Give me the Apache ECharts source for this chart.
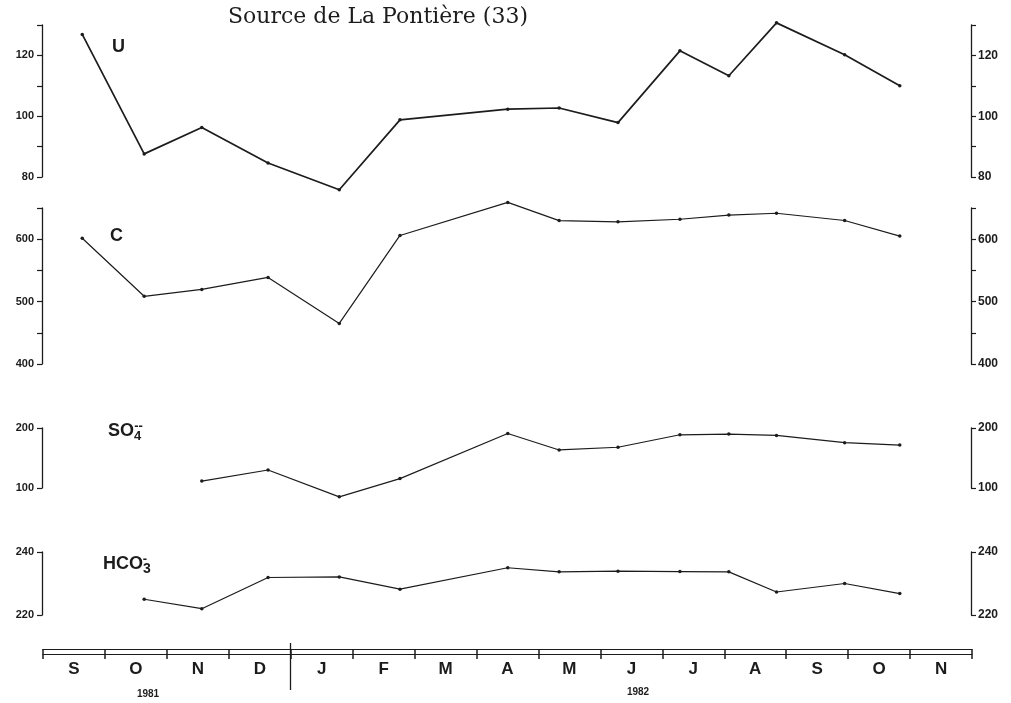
<!DOCTYPE html>
<html>
<head>
<meta charset="utf-8">
<script src="https://cdn.jsdelivr.net/npm/echarts@6/dist/echarts.min.js"></script>
<style>
  html, body { margin: 0; padding: 0; background: #ffffff; }
  #chart { width: 1011px; height: 703px; }
</style>
</head>
<body>
<div id="chart"></div>
<script>
// Sampling dates, in months counted from 1 September 1981
const sampleMonths = [0.65, 1.65, 2.58, 3.65, 4.80, 5.78, 7.52, 8.35, 9.30, 10.30, 11.09, 11.86, 12.96, 13.85];
// Month bands of the time bar (Sept 1981 - Nov 1982)
const monthLabels = ['S', 'O', 'N', 'D', 'J', 'F', 'M', 'A', 'M', 'J', 'J', 'A', 'S', 'O', 'N'];
const yearLabels = ['1981', '1982'];

// Measured series
const uranium = [126.9, 87.6, 96.3, 84.6, 75.8, 98.8, 102.3, 102.7, 97.9, 121.5, 113.3, 130.7, 120.2, 110.0];
const conductivity = [601.6, 508.5, 519.5, 538.7, 465, 606, 659, 629.8, 627.8, 632, 638.7, 641.6, 630, 605];
const sulfate = [null, null, 111.6, 130, 85.3, 115.7, 190.8, 163.4, 167.9, 188.7, 189.8, 187.7, 175.5, 171.6];
const bicarbonate = [null, 225, 222, 231.9, 232.1, 228.2, 235, 233.7, 233.9, 233.8, 233.7, 227.3, 230, 226.8];

// Axis ranges and labelled ticks for each panel
const uAxis = { min: 80, max: 130, interval: 10, labels: [80, 100, 120] };
const cAxis = { min: 400, max: 650, interval: 50, labels: [400, 500, 600] };
const so4Axis = { min: 100, max: 200, interval: 100, labels: [100, 200] };
const hco3Axis = { min: 220, max: 240, interval: 20, labels: [220, 240] };

const INK = '#1c1c1c';
const SANS = '"Liberation Sans", Arial, sans-serif';

const pairs = vals => sampleMonths.map((m, i) => [m, vals[i]]).filter(p => p[1] != null);

const panels = [
  { axis: uAxis, top: 25, height: 152, data: uranium, width: 1.7 },
  { axis: cAxis, top: 208, height: 156, data: conductivity, width: 1.2 },
  { axis: so4Axis, top: 428, height: 60, data: sulfate, width: 1.2 },
  { axis: hco3Axis, top: 552, height: 63, data: bicarbonate, width: 1.2 }
];

const GRID_LEFT = 42, GRID_RIGHT = 40;
const grid = [], xAxis = [], yAxis = [], series = [];

panels.forEach((p, i) => {
  grid.push({ left: GRID_LEFT, right: GRID_RIGHT, top: p.top, height: p.height });
  xAxis.push({ type: 'value', gridIndex: i, min: 0, max: 15, show: false });
  const mk = (position, fontSize, margin) => ({
    type: 'value', gridIndex: i, position,
    min: p.axis.min, max: p.axis.max, interval: p.axis.interval,
    splitLine: { show: false },
    axisLine: { show: true, onZero: false, lineStyle: { color: INK, width: 1.3 } },
    axisTick: { show: true, length: 5, lineStyle: { color: INK, width: 1.2 } },
    axisLabel: {
      show: true, margin, color: INK, fontFamily: SANS, fontWeight: 'bold', fontSize,
      formatter: v => (p.axis.labels.indexOf(v) >= 0 ? String(v) : '')
    }
  });
  yAxis.push(mk('left', 11, 8));
  yAxis.push(mk('right', 12, 7));
  series.push({
    type: 'line', xAxisIndex: i, yAxisIndex: i * 2, clip: false,
    data: pairs(p.data),
    symbol: 'circle', symbolSize: 3.5,
    itemStyle: { color: INK },
    lineStyle: { color: INK, width: p.width },
    silent: true, animation: false
  });
});

// Helper: an empty series so a grid's axes get drawn
const emptyOn = (xi, yi, extra) => Object.assign({
  type: 'line', xAxisIndex: xi, yAxisIndex: yi, data: [], silent: true
}, extra || {});

// Time bar: double rule crossed by month boundary ticks
const barGrid = grid.length;
grid.push({ left: 43, right: 39, top: 649, height: 5 });
const barAxis = (position, tick) => ({
  type: 'value', gridIndex: barGrid, position, min: 0, max: 15, interval: 1,
  splitLine: { show: false },
  axisLine: { show: true, onZero: false, lineStyle: { color: INK, width: 1.2 } },
  axisTick: Object.assign({ lineStyle: { color: INK, width: 1.5 } }, tick),
  axisLabel: { show: false }
});
xAxis.push(barAxis('top', { show: true, inside: true, length: 10 }));
const barTopX = xAxis.length - 1;
xAxis.push(barAxis('bottom', { show: true, length: 1 }));
yAxis.push({ type: 'value', gridIndex: barGrid, min: 0, max: 1, show: false });
const barY = yAxis.length - 1;
series.push(emptyOn(barTopX, barY));
series.push(emptyOn(barTopX + 1, barY));

// Month names centred in their bands
const monthGrid = grid.length;
grid.push({ left: 43, right: 39, top: 649, height: 5 });
xAxis.push({
  type: 'category', gridIndex: monthGrid, position: 'bottom', data: monthLabels, boundaryGap: true,
  axisLine: { show: false, onZero: false }, axisTick: { show: false },
  axisLabel: { show: true, margin: 7, color: INK, fontFamily: SANS, fontWeight: 'bold', fontSize: 17, interval: 0 }
});
yAxis.push({ type: 'value', gridIndex: monthGrid, min: 0, max: 1, show: false });
series.push(emptyOn(xAxis.length - 1, yAxis.length - 1));

// Year divider between December and January
const divGrid = grid.length;
grid.push({ left: 43, right: 39, top: 643, height: 47 });
xAxis.push({ type: 'value', gridIndex: divGrid, min: 0, max: 15, show: false });
yAxis.push({ type: 'value', gridIndex: divGrid, min: 0, max: 1, show: false });
series.push(emptyOn(xAxis.length - 1, yAxis.length - 1, {
  markLine: {
    silent: true, symbol: 'none', label: { show: false }, animation: false,
    lineStyle: { color: INK, type: 'solid', width: 1.3 },
    data: [{ xAxis: 4 }]
  }
}));

const nameStyle = { fill: INK, font: 'bold 18px ' + SANS };

const option = {
  backgroundColor: '#ffffff',
  animation: false,
  grid, xAxis, yAxis, series,
  graphic: [
    { type: 'text', x: 378, y: 6, z: 10, style: { text: 'Source de La Pontière (33)', fill: INK, font: '22px "DejaVu Serif", "Liberation Serif", serif', textAlign: 'center' } },
    { type: 'text', x: 112, y: 38, style: Object.assign({ text: 'U' }, nameStyle) },
    { type: 'text', x: 110, y: 227, style: Object.assign({ text: 'C' }, nameStyle) },
    { type: 'text', x: 108, y: 420, style: {
        text: '{b|SO}{s|4}{p|--}', fill: INK,
        rich: {
          b: { font: 'bold 18px ' + SANS, fill: INK },
          s: { font: 'bold 13px ' + SANS, fill: INK, padding: [9, 0, 0, 0] },
          p: { font: 'bold 13px ' + SANS, fill: INK, padding: [0, 0, 10, -7] }
        } } },
    { type: 'text', x: 103, y: 553, style: {
        text: '{b|HCO}{s|3}{p|-}', fill: INK,
        rich: {
          b: { font: 'bold 18px ' + SANS, fill: INK },
          s: { font: 'bold 14px ' + SANS, fill: INK, padding: [9, 0, 0, 0] },
          p: { font: 'bold 13px ' + SANS, fill: INK, padding: [0, 0, 10, -8] }
        } } },
    { type: 'text', x: 148, y: 689, style: { text: yearLabels[0], fill: INK, font: 'bold 10px ' + SANS, textAlign: 'center' } },
    { type: 'text', x: 638, y: 687, style: { text: yearLabels[1], fill: INK, font: 'bold 10px ' + SANS, textAlign: 'center' } }
  ]
};

const chart = echarts.init(document.getElementById('chart'), null, { renderer: 'canvas' });
chart.setOption(option);
</script>
</body>
</html>
